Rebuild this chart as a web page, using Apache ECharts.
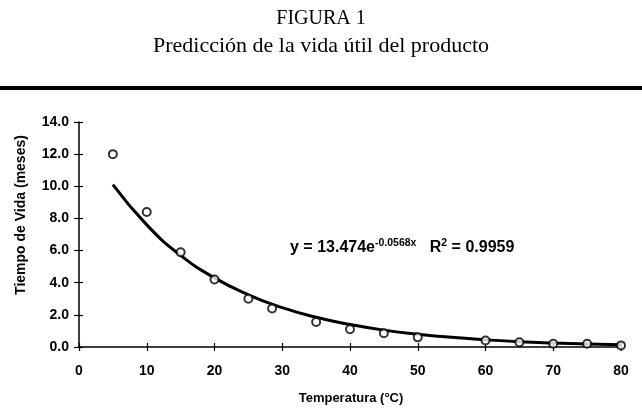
<!DOCTYPE html>
<html>
<head>
<meta charset="utf-8">
<script src="https://cdn.jsdelivr.net/npm/echarts@6/dist/echarts.min.js"></script>
<style>
html,body{margin:0;padding:0;background:#fff;}
#c{width:642px;height:408px;}
</style>
</head>
<body>
<div id="c"></div>
<script>
const titleMain = 'FIGURA 1';
const titleSub = 'Predicción de la vida útil del producto';
const xAxisName = 'Temperatura (°C)';
const yAxisName = 'Tiempo de Vida (meses)';
const xTicks = [0, 10, 20, 30, 40, 50, 60, 70, 80];
const yTicks = [0, 2, 4, 6, 8, 10, 12, 14];

// observed points
const tempObs = [5, 10, 15, 20, 25, 28.5, 35, 40, 45, 50, 60, 65, 70, 75, 80];
const lifeObs = [12.0, 8.4, 5.9, 4.2, 3.0, 2.4, 1.55, 1.1, 0.85, 0.6, 0.4, 0.3, 0.2, 0.2, 0.1];

// fitted trend line
const trendX = [5, 10, 15, 20, 25, 30, 35, 40, 45, 50, 55, 60, 65, 70, 75, 80];
const trendY = [10.1, 7.6, 5.7, 4.3, 3.25, 2.45, 1.85, 1.4, 1.05, 0.8, 0.6, 0.45, 0.33, 0.25, 0.19, 0.14];

const eqText = 'y = 13.474e';
const eqExp = '-0.0568x';
const r2Text = 'R';
const r2Val = ' = 0.9959';

const chart = echarts.init(document.getElementById('c'), null, {renderer: 'canvas'});

const labFont = {fontFamily: 'Liberation Sans, Arial, sans-serif', fontWeight: 'bold', fontSize: 14, color: '#000'};

const xMin = xTicks[0], xMax = xTicks[xTicks.length - 1];
const yMin = yTicks[0], yMax = yTicks[yTicks.length - 1];

const option = {
  animation: false,
  backgroundColor: '#fff',
  grid: {left: 79, right: 21, top: 122, bottom: 61, containLabel: false},
  xAxis: [{
    type: 'value', min: xMin, max: xMax, interval: 10, position: 'bottom',
    axisLine: {show: true, onZero: false, lineStyle: {color: '#000', width: 1.5}},
    axisTick: {show: true, inside: false, length: 4, lineStyle: {color: '#000', width: 1.2}},
    axisLabel: Object.assign({margin: 17}, labFont),
    splitLine: {show: false}
  }, {
    type: 'value', min: xMin, max: xMax, interval: 10, position: 'bottom', offset: 0,
    axisLine: {show: false},
    axisTick: {show: true, inside: true, length: 4, lineStyle: {color: '#000', width: 1.2}},
    axisLabel: {show: false},
    splitLine: {show: false}
  }],
  yAxis: [{
    type: 'value', min: yMin, max: yMax, interval: 2, position: 'left',
    axisLine: {show: true, onZero: false, lineStyle: {color: '#000', width: 1.5}},
    axisTick: {show: true, inside: false, length: 5, lineStyle: {color: '#000', width: 1.2}},
    axisLabel: Object.assign({margin: 10, formatter: v => v.toFixed(1)}, labFont),
    splitLine: {show: false}
  }, {
    type: 'value', min: yMin, max: yMax, interval: 2, position: 'left', offset: 0,
    axisLine: {show: false},
    axisTick: {show: true, inside: true, length: 4, lineStyle: {color: '#000', width: 1.2}},
    axisLabel: {show: false},
    splitLine: {show: false}
  }],
  graphic: [
    {type: 'text', x: 321, y: 19, style: {text: titleMain, font: '20px "Liberation Serif", "Times New Roman", serif', fill: '#000', align: 'center', verticalAlign: 'middle'}},
    {type: 'text', x: 321, y: 46, style: {text: titleSub, font: '22px "Liberation Serif", "Times New Roman", serif', fill: '#000', align: 'center', verticalAlign: 'middle'}},
    {type: 'rect', shape: {x: 0, y: 86, width: 642, height: 4}, style: {fill: '#000'}},
    {type: 'text', x: 351, y: 398, style: {text: xAxisName, font: 'bold 13px "Liberation Sans", Arial, sans-serif', fill: '#000', align: 'center', verticalAlign: 'middle'}},
    {type: 'text', x: 21, y: 215, rotation: Math.PI / 2, style: {text: yAxisName, font: 'bold 14px "Liberation Sans", Arial, sans-serif', fill: '#000', align: 'center', verticalAlign: 'middle'}},
    {type: 'text', x: 290, y: 248, style: {
      text: '{b|' + eqText + '}{s|' + eqExp + '}{b|   ' + r2Text + '}{s|2}{b|' + r2Val + '}',
      verticalAlign: 'middle',
      rich: {
        b: {fontFamily: 'Liberation Sans, Arial, sans-serif', fontWeight: 'bold', fontSize: 16, color: '#000', lineHeight: 19},
        s: {fontFamily: 'Liberation Sans, Arial, sans-serif', fontWeight: 'bold', fontSize: 10.5, color: '#000', lineHeight: 19, padding: [0, 0, 10, 0]}
      }
    }}
  ],
  series: [{
    name: 'Tendencia', type: 'line', smooth: true, showSymbol: false, xAxisIndex: 0, yAxisIndex: 0,
    data: trendX.map((x, i) => [x, trendY[i]]),
    lineStyle: {color: '#000', width: 3}, z: 2
  }, {
    name: 'Observado', type: 'scatter', xAxisIndex: 0, yAxisIndex: 0,
    data: tempObs.map((x, i) => [x, lifeObs[i]]),
    symbol: 'circle', symbolSize: 8,
    itemStyle: {color: '#fff', borderColor: '#000', borderWidth: 2}, z: 3
  }]
};
chart.setOption(option);
</script>
</body>
</html>
